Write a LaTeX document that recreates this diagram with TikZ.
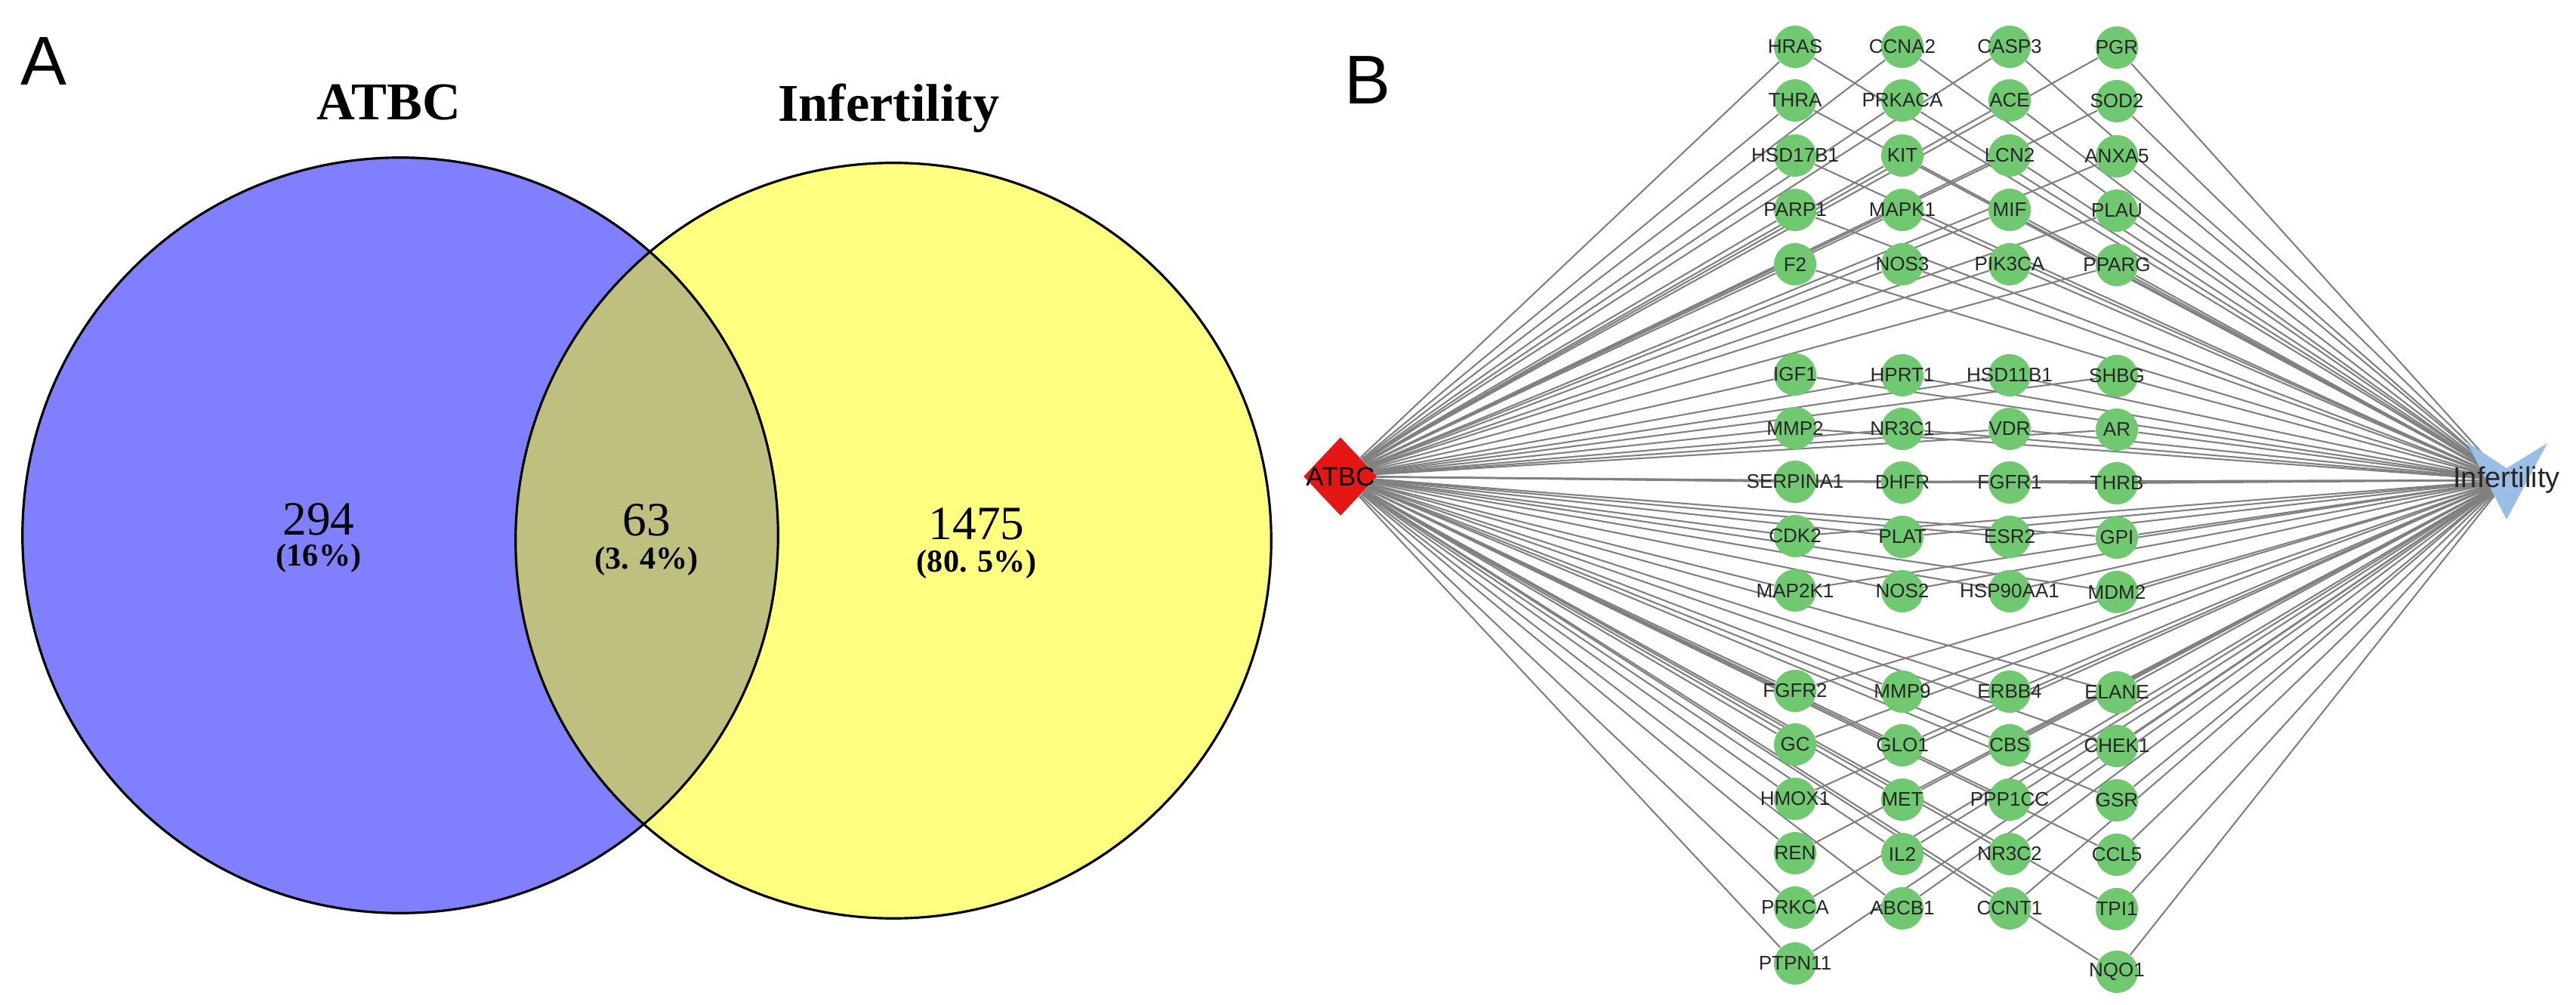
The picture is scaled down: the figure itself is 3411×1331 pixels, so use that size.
\documentclass[tikz,border=0pt]{standalone}
\usepackage{fontspec}
\setmainfont{Liberation Serif}
\newfontfamily\arialfont{Liberation Sans}
\usetikzlibrary{positioning,shapes.geometric,backgrounds}

\definecolor{vennblue}{RGB}{128,128,255}
\definecolor{vennyellow}{RGB}{255,255,128}
\definecolor{vennboth}{RGB}{191,191,128}
\definecolor{genegreen}{RGB}{112,200,112}
\definecolor{drugred}{RGB}{228,22,22}
\definecolor{disblue}{RGB}{155,190,230}
\definecolor{linkgray}{RGB}{128,128,128}

\begin{document}
\begin{tikzpicture}
    [x=0.01cm,y=-0.01cm,
     gene/.style={circle, fill=genegreen, inner sep=0pt, minimum size=0.56cm},
     genetxt/.style={font=\arialfont\fontsize{7.4}{8}\selectfont, text=black!85, inner sep=0pt},
     drug/.style={diamond, fill=drugred, inner sep=0pt, minimum width=0.98cm, minimum height=1.04cm},
     drugtxt/.style={font=\arialfont\fontsize{10}{12}\selectfont, inner sep=0pt},
     distxt/.style={font=\arialfont\fontsize{10.8}{12}\selectfont, text=black!85, inner sep=0pt},
     link/.style={draw=linkgray, line width=0.6pt},
     panel/.style={font=\arialfont\fontsize{26}{30}\selectfont},
     setname/.style={font=\bfseries\fontsize{20}{24}\selectfont, anchor=base},
     count/.style={font=\fontsize{18}{20}\selectfont},
     share/.style={font=\bfseries\fontsize{12}{14}\selectfont}]
  \useasboundingbox (0,0) rectangle (3411,1331);

  % A: venn
  \fill[vennblue] (530,709) circle[radius=5cm];
  \fill[vennyellow] (1183,716) circle[radius=5cm];
  \begin{scope}
    \clip (530,709) circle[radius=5cm];
    \fill[vennboth] (1183,716) circle[radius=5cm];
  \end{scope}
  \draw[line width=0.9pt] (530,709) circle[radius=5cm] (1183,716) circle[radius=5cm];

  \node[panel] (lblA) at (58,81) {A};
  \node[setname] (setL) at (515,159) {ATBC};
  \node[setname] (setR) at (1177,161) {Infertility};
  \node[count] (numL) at (422,688) {294};
  \node[share] (pctL) at (422,739) {(16\%)};
  \node[count] (numM) at (856,689) {63};
  \node[share] (pctM) at (856,743) {(3. 4\%)};
  \node[count] (numR) at (1293,694) {1475};
  \node[share] (pctR) at (1293,747) {(80. 5\%)};

  % B: network
  \node[panel] (lblB) at (1811,106) {B};
  \node[drug, label={[drugtxt]center:ATBC}] (atbc) at (1775,631) {};
  \fill[disblue] (3266,585) -- (3319,620) -- (3373,587) -- (3319,688) -- cycle;
  \node[inner sep=0pt, minimum size=0pt, label={[distxt]center:Infertility}] (infert) at (3319,636) {};

  \foreach \name/\x/\y in {HRAS/2377/62, THRA/2377/133, HSD17B1/2377/206, PARP1/2377/278, F2/2377/350,
      CCNA2/2519/62, PRKACA/2519/133, KIT/2519/206, MAPK1/2519/278, NOS3/2519/350,
      CASP3/2661/62, ACE/2661/133, LCN2/2661/206, MIF/2661/278, PIK3CA/2661/350,
      PGR/2803/63, SOD2/2803/134, ANXA5/2803/207, PLAU/2803/279, PPARG/2803/351,
      IGF1/2377/496, MMP2/2377/567, SERPINA1/2377/638, CDK2/2377/710, MAP2K1/2377/782,
      HPRT1/2519/497, NR3C1/2519/568, DHFR/2519/639, PLAT/2519/711, NOS2/2519/783,
      HSD11B1/2661/497, VDR/2661/568, FGFR1/2661/639, ESR2/2661/711, HSP90AA1/2661/783,
      SHBG/2803/498, AR/2803/569, THRB/2803/640, GPI/2803/712, MDM2/2803/784,
      FGFR2/2377/915, GC/2377/986, HMOX1/2377/1058, REN/2377/1130, PRKCA/2377/1202, PTPN11/2377/1276,
      MMP9/2519/916, GLO1/2519/987, MET/2519/1059, IL2/2519/1131, ABCB1/2519/1203,
      ERBB4/2661/916, CBS/2661/987, PPP1CC/2661/1059, NR3C2/2661/1131, CCNT1/2661/1203,
      ELANE/2803/917, CHEK1/2803/988, GSR/2803/1060, CCL5/2803/1132, TPI1/2803/1204, NQO1/2803/1287}
    \node[gene, label={[genetxt]center:\name}] (\name) at (\x,\y) {};

  \begin{pgfonlayer}{background}
    \foreach \g in {HRAS, THRA, HSD17B1, PARP1, F2, CCNA2, PRKACA, KIT, MAPK1, NOS3,
        CASP3, ACE, LCN2, MIF, PIK3CA, PGR, SOD2, ANXA5, PLAU, PPARG,
        IGF1, MMP2, SERPINA1, CDK2, MAP2K1, HPRT1, NR3C1, DHFR, PLAT, NOS2,
        HSD11B1, VDR, FGFR1, ESR2, HSP90AA1, SHBG, AR, THRB, GPI, MDM2,
        FGFR2, GC, HMOX1, REN, PRKCA, PTPN11, MMP9, GLO1, MET, IL2, ABCB1,
        ERBB4, CBS, PPP1CC, NR3C2, CCNT1, ELANE, CHEK1, GSR, CCL5, TPI1, NQO1}
      \draw[link] (atbc) -- (\g) -- (infert);
  \end{pgfonlayer}
\end{tikzpicture}
\end{document}
